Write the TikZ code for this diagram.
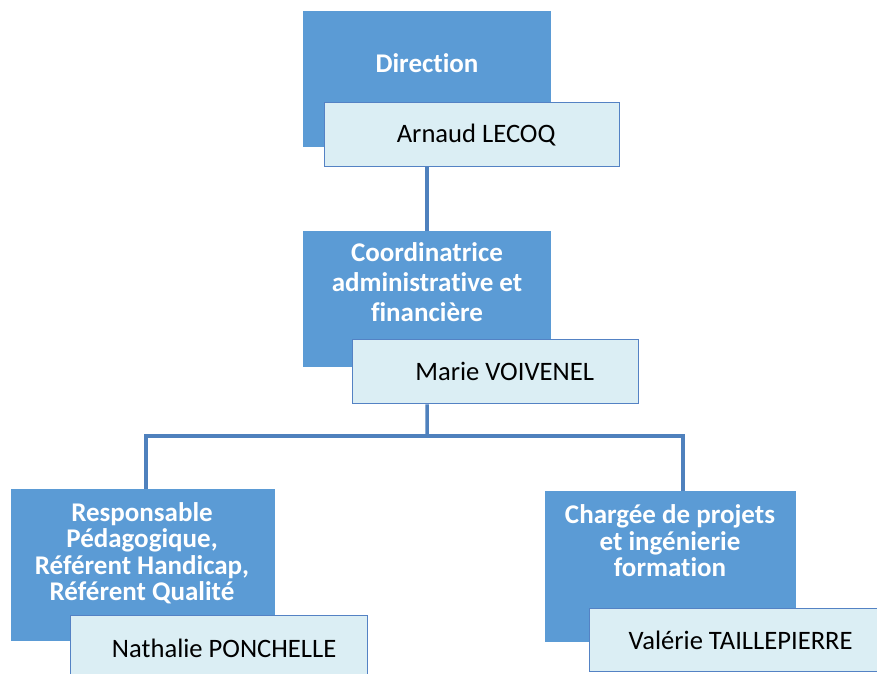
\documentclass[tikz,border=0pt]{standalone}
\usepackage{fontspec}
\setmainfont{Carlito}[Ligatures=NoCommon]
\usepackage{xcolor}
\usepackage{tikz}
\usetikzlibrary{positioning}

\definecolor{roleblue}{RGB}{91,155,213}
\definecolor{namefill}{RGB}{219,238,244}
\definecolor{nameline}{RGB}{84,130,196}
\definecolor{linkblue}{RGB}{79,129,189}

\begin{document}
\begin{tikzpicture}[x=1pt, y=-1pt,
        rolebox/.style={fill=roleblue, anchor=north west, inner sep=0pt},
        roletext/.style={text=white, align=center, font=\fontsize{27}{26.5}\selectfont\bfseries},
        namebox/.style={draw=nameline, line width=1.3pt, fill=namefill, anchor=north west,
            inner sep=0pt, font=\fontsize{26.6}{30}\selectfont},
        link/.style={draw=linkblue, line width=3.5pt}]
        \clip (0,0) rectangle (877,673);

        % Direction
        \node[rolebox, minimum width=248pt, minimum height=136pt] (dir) at (303,11) {};
        \node[roletext] (dirtxt) at (427,63) {Direction};
        \node[namebox, minimum width=295pt, minimum height=64pt] (lecoq) at (324,102) {\hspace{8pt}Arnaud LECOQ};

        % Coordinatrice
        \node[rolebox, minimum width=248pt, minimum height=136pt] (coord) at (303,231) {};
        \node[roletext, font=\fontsize{27}{30}\selectfont\bfseries] (coordtxt) at (427,282) {Coordinatrice\\administrative et\\financière};
        \node[namebox, minimum width=286pt, minimum height=64pt] (voiv) at (352,339) {\hspace{18pt}Marie VOIVENEL};

        % Responsable
        \node[rolebox, minimum width=264pt, minimum height=152pt] (resp) at (11,489) {};
        \node[roletext] (resptxt) at (142,553) {Responsable\\Pédagogique,\\Référent Handicap,\\Référent Qualité};
        \node[namebox, minimum width=297pt, minimum height=66pt] (ponch) at (70,615) {\hspace{10pt}Nathalie PONCHELLE};

        % Chargée
        \node[rolebox, minimum width=251pt, minimum height=151pt] (charg) at (545,491) {};
        \node[roletext] (chargtxt) at (670,541) {Chargée de projets\\et ingénierie\\formation};
        \node[namebox, minimum width=306pt, minimum height=63pt] (taill) at (589,608) {\hspace{-4pt}Valérie TAILLEPIERRE};

        \coordinate (hub) at (427,436);
        \coordinate (jl) at (146,436);
        \coordinate (jr) at (683,436);

        \draw[link] (dir.south |- lecoq.south) -- (coord.north);
        \draw[link] (coord.south |- voiv.south) -- (hub);
        \draw[link] (jl |- resp.north) -- (jl) -- (jr) -- (jr |- charg.north);
    \end{tikzpicture}
\end{document}
